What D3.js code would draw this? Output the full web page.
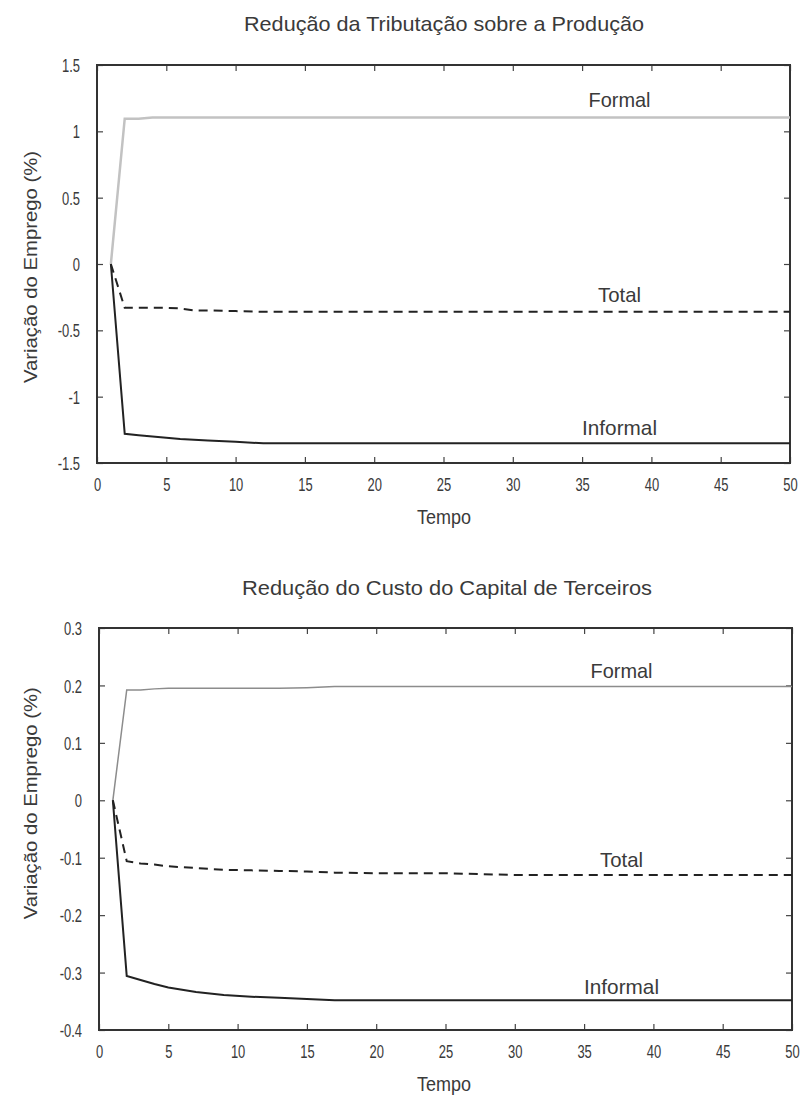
<!DOCTYPE html>
<html>
<head>
<meta charset="utf-8">
<script src="https://cdn.jsdelivr.net/npm/d3@7"></script>
<style>
  body { margin: 0; background: #fff; }
  text { font-family: "Liberation Sans", Arial, sans-serif; fill: #3a3a3a; }
</style>
</head>
<body>
<svg width="805" height="1096"></svg>
<script>
// periods (Tempo)
var tTop = [1, 2, 3, 4, 5, 6, 7, 8, 10, 12, 15, 20, 30, 40, 50];
var formalTop =   [0, 1.095, 1.095, 1.105, 1.105, 1.105, 1.105, 1.105, 1.105, 1.105, 1.105, 1.105, 1.105, 1.105, 1.105];
var totalTop =    [0, -0.33, -0.33, -0.33, -0.33, -0.335, -0.35, -0.35, -0.355, -0.36, -0.36, -0.36, -0.36, -0.36, -0.36];
var informalTop = [0, -1.28, -1.29, -1.30, -1.31, -1.32, -1.325, -1.33, -1.34, -1.352, -1.352, -1.352, -1.352, -1.352, -1.352];

var tBot = [1, 2, 3, 4, 5, 7, 9, 11, 13, 15, 17, 20, 25, 30, 40, 50];
var formalBot =   [0, 0.192, 0.192, 0.194, 0.195, 0.195, 0.195, 0.195, 0.195, 0.196, 0.198, 0.198, 0.198, 0.198, 0.198, 0.198];
var totalBot =    [0, -0.106, -0.110, -0.112, -0.115, -0.118, -0.121, -0.122, -0.123, -0.124, -0.126, -0.127, -0.127, -0.130, -0.130, -0.130];
var informalBot = [0, -0.306, -0.313, -0.320, -0.326, -0.334, -0.339, -0.342, -0.344, -0.346, -0.348, -0.348, -0.348, -0.348, -0.348, -0.348];

var xTicks = [0, 5, 10, 15, 20, 25, 30, 35, 40, 45, 50];
var yTicksTop = [1.5, 1, 0.5, 0, -0.5, -1, -1.5];
var yTicksBot = [0.3, 0.2, 0.1, 0, -0.1, -0.2, -0.3, -0.4];

var seriesNames = ["Formal", "Total", "Informal"];
// label anchor (centre x, baseline y) in data coords, per panel
var labelPosTop = [[37.7, 1.18], [37.7, -0.29], [37.7, -1.29]];
var labelPosBot = [[37.7, 0.213], [37.7, -0.117], [37.7, -0.338]];

var svg = d3.select("svg");

// squeeze text horizontally so it looks like the narrow face of the original
function condense(sel, k) {
  sel.each(function () {
    var len = this.getComputedTextLength();
    d3.select(this).attr("textLength", len * k).attr("lengthAdjust", "spacingAndGlyphs");
  });
}

function panel(opts) {
  var w = 693, h = opts.h;
  var g = svg.append("g").attr("transform", "translate(" + opts.left + "," + opts.top + ")");
  var x = d3.scaleLinear().domain([0, 50]).range([0, w]);
  var y = d3.scaleLinear().domain(opts.yDomain).range([h, 0]);

  svg.append("text")
    .attr("x", opts.titleX)
    .attr("y", opts.titleY)
    .attr("text-anchor", "middle")
    .style("font-size", "21px")
    .text(opts.title)
    .attr("textLength", opts.titleW)
    .attr("lengthAdjust", "spacingAndGlyphs");

  // inward ticks on all four sides
  var bx = g.append("g").attr("transform", "translate(0," + h + ")")
    .call(d3.axisBottom(x).tickValues(xTicks).tickSize(-6).tickPadding(14).tickFormat(d3.format("d")));
  g.append("g")
    .call(d3.axisTop(x).tickValues(xTicks).tickSize(-6).tickFormat(""));
  var ly = g.append("g")
    .call(d3.axisLeft(y).tickValues(opts.yTicks).tickSize(-6).tickPadding(17).tickFormat(function (d) { return String(d); }));
  g.append("g").attr("transform", "translate(" + w + ",0)")
    .call(d3.axisRight(y).tickValues(opts.yTicks).tickSize(-6).tickFormat(""));

  g.selectAll(".domain").remove();
  g.selectAll(".tick line").attr("stroke", "#444").attr("stroke-width", 1.2);
  g.selectAll(".tick text").style("font-size", "17.5px").attr("fill", "#555");
  bx.selectAll(".tick text").attr("dy", null).attr("y", 28);
  ly.selectAll(".tick text").attr("dy", "0.38em");
  condense(g.selectAll(".tick text"), 0.74);

  g.append("rect")
    .attr("width", w).attr("height", h)
    .attr("fill", "none").attr("stroke", "#333").attr("stroke-width", 2);

  var line = d3.line()
    .x(function (d) { return x(d[0]); })
    .y(function (d) { return y(d[1]); });

  var styles = [
    { stroke: opts.formalColor, width: opts.formalWidth, dash: null },
    { stroke: "#222", width: 2, dash: "9,6" },
    { stroke: "#222", width: 2, dash: null }
  ];
  var labelW = [62, 43, 75];
  opts.series.forEach(function (vals, i) {
    g.append("path")
      .datum(opts.t.map(function (t, j) { return [t, vals[j]]; }))
      .attr("d", line)
      .attr("fill", "none")
      .attr("stroke", styles[i].stroke)
      .attr("stroke-width", styles[i].width)
      .attr("stroke-dasharray", styles[i].dash);
    g.append("text")
      .attr("x", x(opts.labels[i][0]))
      .attr("y", y(opts.labels[i][1]))
      .attr("text-anchor", "middle")
      .style("font-size", "21px")
      .text(seriesNames[i])
      .attr("textLength", labelW[i])
      .attr("lengthAdjust", "spacingAndGlyphs");
  });

  // axis titles
  g.append("text")
    .attr("x", 444 - opts.left)
    .attr("y", h + 61)
    .attr("text-anchor", "middle")
    .style("font-size", "20px")
    .text("Tempo")
    .attr("textLength", 54)
    .attr("lengthAdjust", "spacingAndGlyphs");
  g.append("text")
    .attr("transform", "translate(" + (37 - opts.left) + "," + (y(0) + 3) + ") rotate(-90)")
    .attr("text-anchor", "middle")
    .style("font-size", "18px")
    .text("Variação do Emprego (%)")
    .attr("textLength", 232)
    .attr("lengthAdjust", "spacingAndGlyphs");
}

panel({
  left: 97, top: 65, h: 398, yDomain: [-1.5, 1.5], yTicks: yTicksTop,
  t: tTop, series: [formalTop, totalTop, informalTop], labels: labelPosTop,
  title: "Redução da Tributação sobre a Produção", titleX: 444, titleY: 31, titleW: 400,
  formalColor: "#c2c2c2", formalWidth: 2.5
});

panel({
  left: 99, top: 628, h: 402, yDomain: [-0.4, 0.3], yTicks: yTicksBot,
  t: tBot, series: [formalBot, totalBot, informalBot], labels: labelPosBot,
  title: "Redução do Custo do Capital de Terceiros", titleX: 447, titleY: 595, titleW: 410,
  formalColor: "#8c8c8c", formalWidth: 1.5
});
</script>
</body>
</html>
